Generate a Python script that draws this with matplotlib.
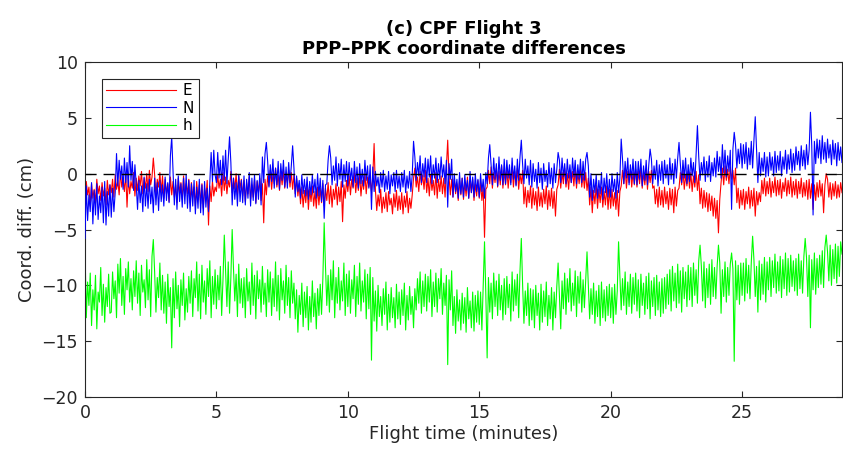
import numpy as np
import matplotlib
matplotlib.use("Agg")
import matplotlib.pyplot as plt

# ── Data (cm), one value every 0.05 min (20 per row = 1 minute) ──────
STEP_MIN = 0.05
X_MAX = 28.8

E = [
    -2.5, -0.7, -1.9, -1.2, -2.9, -0.9, -2.2, -1.4, -2.6, -0.5, -1.8, -1.1, -2.4, -0.8, -2.0, -1.3, -2.8, -0.6, -1.9, -1.0,
    -1.7, -0.5, -2.1, -0.1, -1.4, -0.6, -1.9, 0.2, -1.2, -0.4, -1.6, 0.0, -3.0, -0.3, -1.8, -0.7, -1.3, 0.1, -2.0, -0.4,
    -1.5, -0.2, -1.1, 0.2, -1.8, -0.4, -1.3, 0.0, -1.6, 0.3, -1.0, -0.3, 1.4, -0.1, -1.9, -0.5, -1.2, 0.1, -1.7, -0.2,
    -2.2, -0.5, -1.8, -0.9, -2.5, -0.3, -1.9, -0.7, -2.1, -1.0, -2.6, -0.4, -1.7, -0.8, -2.3, -0.2, -2.0, -0.9, -1.8, -0.5,
    -2.6, -0.8, -2.1, -1.2, -2.9, -0.7, -2.3, -1.0, -2.7, -0.9, -3.1, -1.3, -2.2, -0.6, -4.6, -1.1, -2.5, -0.7, -2.0, -1.2,
    -1.6, -0.1, -1.3, -0.5, -2.0, 0.1, -1.5, -0.3, -1.8, -0.6, -1.2, 0.2, -1.7, -0.4, -1.4, 0.0, -1.9, -0.2, -1.3, -0.5,
    -2.0, -0.6, -2.5, -0.8, -1.8, -0.3, -2.3, -1.0, -2.1, -0.5, -2.6, -0.7, -1.7, -0.4, -2.4, -0.9, -4.4, -0.5, -1.9, -0.2,
    -1.1, 0.3, -1.4, 0.0, -0.9, 0.5, -1.2, -0.1, -1.5, 0.2, -1.0, 0.4, -1.3, -0.2, -0.8, 0.3, -1.2, 0.1, -1.4, -0.1,
    -1.8, -0.4, -2.0, -0.9, -2.7, -1.2, -3.0, -1.5, -2.6, -1.0, -3.2, -1.4, -2.5, -1.1, -2.9, -1.6, -3.1, -1.2, -2.8, -1.3,
    -2.6, -0.9, -2.9, -1.3, -2.4, -0.8, -2.7, -1.1, -3.0, -1.4, -2.3, -0.9, -2.8, -1.2, -2.5, -0.7, -4.3, -1.0, -2.2, -0.6,
    -1.6, -0.2, -1.9, -0.5, -1.3, 0.1, -1.7, -0.4, -1.5, -0.1, -2.0, -0.6, -1.4, 0.0, -1.8, -0.3, -1.2, -0.5, -1.6, -0.2,
    2.7, -1.5, -3.3, -1.9, -2.9, -1.4, -3.5, -2.1, -3.1, -1.7, -3.4, -1.6, -2.8, -2.2, -3.6, -1.8, -3.0, -1.5, -3.3, -2.0,
    -3.2, -1.7, -3.6, -2.0, -3.0, -1.6, -3.5, -2.2, -3.1, -1.9, -0.4, 0.5, -1.2, -0.3, -1.6, 0.2, -1.0, -0.1, -1.4, 0.3,
    -1.7, -0.4, -2.0, -0.1, -1.5, -0.6, -1.9, 0.1, -2.2, -0.5, -1.6, -0.2, -1.8, -0.4, -2.1, 0.6, 3.0, -0.3, -1.9, -0.5,
    -2.1, -0.5, -1.8, -0.9, -2.4, -0.6, -1.9, -0.4, -2.3, -0.8, -2.0, -0.3, -2.2, -0.7, -1.7, -0.5, -2.4, -0.9, -2.0, -0.6,
    -2.2, -0.8, -2.4, -1.1, -5.7, -1.4, -1.2, 0.3, -0.9, 0.6, -1.3, 0.1, -0.8, 0.5, -1.2, 0.2, -1.0, 0.7, -1.3, 0.3,
    -1.0, 0.4, -1.3, 0.1, -0.8, 0.6, -1.2, 0.2, -1.0, 0.5, -1.4, 0.0, -0.9, 0.3, -2.7, -1.2, -3.0, -1.5, -2.6, -1.1,
    -3.1, -1.3, -2.8, -1.6, -3.3, -1.2, -2.9, -1.7, -3.0, -1.4, -2.7, -1.1, -3.2, -1.5, -2.9, -1.3, -3.1, -1.6, -3.8, -1.4,
    -1.0, 0.4, -1.3, 0.1, -0.9, 0.5, -1.2, 0.0, -1.4, 0.3, -0.8, 0.2, -1.1, 0.5, -1.3, 0.1, -0.9, 0.4, -1.2, 0.0,
    -1.3, 0.1, -1.5, -0.4, -2.8, -1.2, -3.5, -1.5, -2.7, -1.0, -3.1, -1.4, -2.6, -1.2, -3.0, -1.6, -2.8, -1.1, -3.2, -1.4,
    -3.1, -1.4, -2.9, -1.7, -3.2, -1.5, -3.8, -1.6, -1.1, 0.3, -0.9, 0.5, -1.3, 0.2, -0.8, 0.4, -1.2, 0.1, -1.0, 0.4,
    -1.2, 0.2, -0.9, 0.5, -1.3, 0.1, -1.0, 0.4, -1.4, 0.2, -0.8, 0.3, -1.3, -1.1, -2.7, -1.4, -3.0, -1.2, -2.8, -1.5,
    -3.0, -1.2, -2.7, -1.6, -3.2, -1.3, -2.8, -1.4, -3.5, -1.2, -2.9, -1.5, -1.3, 0.1, -1.0, 0.3, -1.4, -0.1, -1.1, 0.2,
    -1.3, 0.1, -1.6, -0.2, -1.2, 0.2, -1.5, -0.1, -2.7, -1.3, -3.1, -1.5, -3.0, -1.7, -3.4, -1.8, -3.3, -2.0, -3.8, -2.2,
    -4.0, -2.4, -5.3, -2.3, -0.8, 0.5, -1.0, 0.7, -0.6, 0.4, -0.9, 0.6, -0.5, 0.3, -1.0, 0.5, -2.6, -1.3, -3.1, -1.5,
    -2.8, -1.4, -3.2, -1.6, -2.7, -1.2, -3.1, -1.5, -2.9, -1.3, -3.8, -1.6, -2.8, -1.7, -2.5, -0.6, -1.8, -0.4, -2.0, -0.7,
    -1.8, -0.4, -2.1, -0.7, -1.7, -0.3, -2.0, -0.6, -1.9, -0.5, -2.2, -0.8, -1.6, -0.4, -2.0, -0.6, -1.8, -0.3, -2.1, -0.7,
    -1.9, -0.5, -2.2, -0.7, -1.8, -0.4, -2.1, -0.8, -2.0, -0.6, -2.3, -0.5, -2.2, -0.9, -3.2, -1.0, -2.4, -0.8, -2.1, -0.6,
    -2.0, -0.9, -3.5, -1.0, 0.0, -0.5, -2.1, -0.8, -2.3, -0.9, -2.0, -0.7, -2.2, -1.0, -2.1, -0.8, -1.7,
]

N = [
    -5.8, -1.1, -4.2, -1.9, -3.4, -0.8, -4.5, -1.5, -3.7, -0.9, -4.1, -2.0, -3.5, -1.2, -4.4, -0.7, -4.6, -1.6, -3.8, -1.0,
    -3.9, -1.3, -3.4, -1.7, 1.8, -1.1, 1.2, -0.5, 0.7, -1.4, 1.4, -0.8, 1.0, -1.2, 2.5, -0.6, 1.1, -1.5, 0.8, -1.0,
    -3.2, -0.6, -2.6, -1.1, -3.4, -0.3, -2.9, -0.9, -3.1, -0.5, -2.7, -1.2, -3.5, -0.4, -2.8, -0.8, -3.3, -0.6, -2.5, -1.0,
    -2.9, -0.3, -2.4, -0.8, -2.6, 1.6, 3.3, 0.3, -2.8, -0.5, -3.2, -0.2, -2.5, -0.9, -3.0, -0.4, -2.7, -0.1, -3.1, -0.6,
    -3.4, -0.9, -2.9, -0.6, -3.6, -1.2, -3.1, -0.5, -3.5, -1.0, -3.7, -0.7, -3.0, -1.3, -3.4, -0.8, 1.9, -0.7, 2.1, -0.1,
    -0.8, 1.9, -0.4, 1.2, -1.0, 1.6, -0.6, 2.1, -0.9, 1.3, 3.3, 1.0, -2.8, -0.4, -2.3, -0.8, -2.9, -0.1, -2.5, -0.6,
    -2.6, -0.2, -2.8, -0.5, -2.2, 0.1, -2.9, -0.4, -2.4, -0.1, -2.7, -0.6, -2.3, 0.0, -2.8, 1.5, -0.8, 1.8, 2.8, 1.1,
    -1.2, 0.8, -0.7, 1.3, -1.3, 0.5, -1.0, 1.1, -1.4, 0.9, -0.6, 1.2, -1.2, 0.6, -1.3, 1.0, -0.8, 0.7, 2.5, 0.5,
    -2.1, -0.2, -1.6, -0.6, -2.2, -0.1, -1.8, -0.5, -2.0, -0.3, -2.3, -0.7, -1.9, -0.1, -1.7, -0.5, -2.2, 0.0, -2.0, -0.4,
    -2.5, -0.6, -4.0, -1.0, -0.9, 1.2, 2.5, 1.4, -1.0, 0.7, -0.6, 1.5, -1.1, 0.9, -0.5, 1.3, -1.2, 0.8, -0.7, 1.1,
    -1.1, 1.0, -0.6, 0.5, -1.2, 1.1, -0.8, 0.6, -1.3, 0.9, -0.9, 0.4, -1.1, 1.2, -0.6, 0.7, -1.3, 0.8, -3.2, 0.6,
    -1.6, 0.2, -1.1, -0.3, -1.7, 0.1, -1.2, 0.3, -1.6, -0.2, -1.4, 0.2, -1.8, -0.1, -1.1, 0.1, -1.6, 0.3, -1.3, -0.2,
    -1.6, 0.1, -1.2, 0.3, -1.7, -0.2, -1.3, 0.2, -1.6, -0.1, 2.9, 1.5, -0.6, 1.0, -0.2, 1.6, -0.8, 0.9, -0.3, 1.4,
    -0.8, 1.3, -0.3, 1.6, -0.9, 0.8, -0.4, 1.4, -0.8, 0.9, -0.5, 1.5, -0.3, 0.8, -0.9, 1.2, -3.0, 0.9, -0.5, 1.3,
    -2.1, 0.0, -1.6, -0.5, -2.2, 0.1, -1.8, -0.4, -2.1, -0.1, -1.5, -0.6, -2.2, 0.2, -1.7, -0.3, -2.1, 0.0, -1.6, -0.5,
    -2.1, 0.0, -1.6, -0.5, -2.2, 0.1, -0.9, 1.4, 2.6, 0.8, -1.0, 1.4, -0.5, 0.9, -1.1, 1.5, -0.6, 0.8, -1.0, 1.3,
    -0.9, 1.2, -0.4, 0.8, -1.0, 1.4, -0.5, 0.7, -1.1, 1.3, -0.6, 1.5, 3.0, 0.8, -0.9, 1.3, -0.4, 0.7, -1.0, 1.2,
    -1.2, 0.9, -0.7, 0.4, -1.3, 1.0, -0.8, 0.5, -1.4, 0.9, -0.7, 0.3, -1.2, 1.0, -0.9, 0.5, -1.3, 0.9, -0.8, 0.4,
    1.9, 1.2, -0.8, 1.4, -0.3, 0.9, -0.9, 1.3, -0.4, 0.8, -0.8, 1.4, -0.3, 1.2, -0.9, 0.8, -0.5, 1.3, -0.8, 1.1,
    -0.6, 1.3, 1.9, 0.7, -2.1, 0.0, -2.4, -0.5, -1.7, -0.1, -2.2, -0.6, -1.8, 0.1, -2.3, -0.4, -1.7, 0.0, -2.1, -0.5,
    -2.1, 0.0, -1.6, -0.5, -2.2, 0.1, -1.7, -0.4, 3.1, 1.3, -0.9, 1.1, -0.4, 1.4, -1.0, 0.8, -0.5, 1.3, -0.9, 1.1,
    -1.0, 1.1, -0.5, 1.3, -1.1, 0.7, -0.6, 1.2, -1.0, 0.8, 2.2, 1.3, -0.9, 0.7, -0.5, 1.2, -1.1, 0.8, -0.6, 1.1,
    -0.9, 1.2, -0.4, 0.8, -1.0, 1.4, -0.5, 0.9, -0.9, 1.3, -0.4, 1.4, 2.8, 0.9, -0.8, 1.2, -0.4, 1.4, -0.9, 0.8,
    -0.7, 1.4, -0.2, 1.0, -0.8, 1.8, 4.3, 1.5, -0.6, 1.0, -0.1, 1.5, -0.7, 1.1, -0.3, 1.6, -0.7, 1.0, -0.2, 1.4,
    -0.3, 2.0, 0.2, 1.5, -0.4, 2.6, 0.1, 2.1, -0.3, 1.6, 0.2, 2.1, -3.2, 2.2, 3.7, 2.6, 0.5, 2.2, 0.9, 2.7,
    0.5, 2.6, 0.9, 2.8, 0.4, 2.3, 0.8, 2.9, 0.5, 3.0, 5.1, 2.2, -0.8, 1.9, -0.2, 1.4, 0.2, 1.9, -0.3, 1.5,
    -0.2, 1.9, 0.3, 1.5, -0.2, 2.0, 0.1, 1.6, 0.3, 2.0, -0.2, 1.5, 0.4, 2.1, 0.0, 1.7, 0.4, 2.2, 0.1, 1.8,
    0.3, 2.4, 0.8, 2.0, 0.3, 2.5, 0.7, 2.1, 0.4, 2.6, 0.8, 2.1, 5.5, 2.5, -3.7, 2.9, 0.9, 3.1, 1.4, 3.0,
    0.9, 3.4, 1.3, 2.8, 1.0, 3.1, 1.4, 2.6, 0.8, 3.0, 1.3, 2.7, 0.7, 2.8, 1.2, 2.4, 1.0,
]

h = [
    -6.5, -12.9, -9.7, -11.8, -8.9, -13.6, -10.4, -12.2, -9.1, -13.9, -10.6, -11.5, -8.4, -12.7, -9.9, -13.3, -10.2, -11.9, -9.0, -12.5,
    -12.4, -8.8, -11.2, -9.6, -12.9, -8.1, -10.7, -7.6, -11.8, -9.2, -12.6, -8.5, -10.4, -7.9, -11.5, -9.4, -12.2, -8.7, -11.0, -7.8,
    -11.6, -8.9, -12.7, -8.2, -10.6, -9.5, -12.0, -7.7, -11.3, -8.6, -12.8, -7.4, -5.9, -8.8, -12.4, -9.3, -11.1, -8.0, -12.2, -9.1,
    -12.5, -9.7, -13.4, -9.0, -11.9, -10.2, -15.6, -9.4, -12.9, -8.8, -12.1, -10.0, -13.7, -9.5, -11.8, -8.9, -13.1, -10.3, -12.4, -9.2,
    -11.6, -8.7, -12.8, -9.4, -11.1, -7.9, -12.3, -9.0, -13.0, -8.2, -11.5, -9.6, -12.6, -8.5, -11.0, -7.8, -12.9, -9.2, -11.7, -8.6,
    -12.1, -9.1, -11.3, -8.3, -12.7, -9.5, -5.5, -8.7, -11.9, -7.9, -12.5, -9.3, -5.0, -8.5, -11.4, -9.0, -12.8, -8.1, -11.6, -9.4,
    -12.0, -9.3, -12.9, -8.5, -11.4, -9.7, -12.6, -8.0, -11.8, -9.1, -13.0, -8.7, -11.2, -9.5, -12.4, -8.3, -11.7, -9.8, -12.8, -8.6,
    -11.5, -8.8, -12.7, -9.4, -11.9, -7.9, -12.3, -9.1, -13.1, -8.5, -11.3, -9.6, -12.5, -8.2, -11.8, -9.3, -12.9, -8.7, -11.6, -9.8,
    -13.0, -10.4, -14.2, -10.9, -12.6, -9.8, -13.7, -10.6, -12.9, -10.1, -14.0, -11.0, -13.3, -9.6, -12.8, -10.7, -13.9, -10.3, -12.7, -9.9,
    -12.6, -9.4, -4.4, -8.3, -11.8, -9.1, -12.4, -8.6, -11.3, -7.8, -12.9, -9.3, -11.6, -8.4, -12.2, -9.6, -11.4, -8.0, -12.7, -9.0,
    -11.9, -8.7, -12.5, -9.5, -11.2, -8.2, -12.8, -9.2, -11.7, -8.0, -12.3, -9.6, -11.5, -8.6, -13.0, -9.0, -12.1, -8.4, -16.7, -9.3,
    -13.2, -10.5, -14.1, -10.0, -12.8, -11.0, -13.6, -10.3, -12.6, -9.7, -14.0, -10.8, -13.3, -10.2, -12.9, -11.1, -13.8, -9.9, -13.0, -10.6,
    -13.5, -10.4, -12.7, -9.8, -14.0, -10.9, -13.1, -10.1, -12.6, -11.0, -13.8, -10.3, -12.2, -9.4, -11.6, -8.8, -12.5, -9.6, -11.9, -9.0,
    -12.3, -9.2, -11.5, -8.6, -12.8, -9.7, -11.9, -8.9, -12.4, -9.4, -11.2, -8.5, -12.6, -9.8, -11.8, -9.1, -17.1, -9.5, -12.2, -8.7,
    -13.6, -11.0, -14.3, -10.4, -13.2, -11.3, -14.0, -10.7, -13.4, -11.1, -14.2, -10.2, -13.0, -11.4, -13.8, -10.6, -14.1, -10.9, -13.3, -10.5,
    -13.5, -10.6, -14.0, -10.2, -6.1, -10.8, -16.5, -9.3, -12.4, -9.8, -13.0, -8.9, -11.9, -9.6, -12.7, -9.0, -12.2, -10.0, -13.1, -9.4,
    -12.6, -9.2, -12.0, -9.9, -13.2, -8.8, -12.3, -9.5, -11.8, -9.0, -12.9, -8.7, -5.8, -10.0, -13.4, -10.5, -12.7, -9.8, -13.6, -10.3,
    -13.1, -10.4, -13.8, -10.0, -12.7, -10.7, -14.0, -9.9, -13.3, -10.5, -12.8, -9.7, -13.6, -10.9, -13.0, -10.2, -14.0, -10.6, -12.9, -10.1,
    -8.0, -10.9, -13.9, -9.6, -12.1, -8.9, -12.6, -9.4, -11.5, -8.5, -12.3, -9.8, -11.8, -8.7, -12.8, -9.2, -11.6, -8.8, -12.4, -9.5,
    -12.0, -9.6, -7.0, -9.9, -13.0, -10.3, -12.6, -9.8, -13.4, -10.5, -12.8, -10.0, -13.6, -9.7, -12.9, -10.4, -13.2, -10.1, -12.7, -9.9,
    -12.9, -10.2, -13.4, -9.9, -12.6, -10.5, -6.1, -9.1, -12.2, -9.4, -11.8, -8.8, -12.6, -9.7, -11.9, -9.0, -12.5, -9.3, -11.7, -8.9,
    -12.3, -9.5, -12.9, -9.0, -11.8, -9.8, -12.6, -9.2, -12.1, -8.9, -13.0, -9.6, -11.9, -9.3, -12.7, -9.1, -12.2, -9.7, -12.8, -9.4,
    -12.5, -9.3, -12.1, -9.0, -11.7, -8.6, -12.3, -8.3, -11.4, -8.9, -12.0, -8.1, -11.6, -8.7, -12.4, -8.4, -11.2, -8.8, -11.9, -8.2,
    -11.3, -8.4, -11.9, -8.0, -10.9, -8.6, -11.6, -7.8, -6.4, -8.3, -11.4, -7.9, -12.0, -8.5, -11.1, -8.1, -11.7, -7.7, -11.0, -8.4,
    -11.2, -8.3, -6.4, -8.0, -12.5, -8.6, -11.0, -7.9, -11.5, -8.4, -10.9, -8.1, -7.1, -8.5, -16.8, -7.8, -11.3, -8.2, -11.7, -8.0,
    -10.9, -8.0, -11.4, -7.6, -10.7, -8.2, -11.2, -7.9, -5.6, -7.7, -11.0, -8.3, -12.4, -7.8, -11.3, -8.1, -10.8, -7.5, -11.5, -7.9,
    -10.4, -7.5, -11.0, -7.8, -10.2, -7.2, -10.7, -7.9, -10.5, -7.4, -11.1, -7.7, -10.3, -7.1, -10.9, -7.6, -10.6, -7.3, -10.1, -7.8,
    -10.5, -7.6, -10.9, -7.2, -10.3, -7.8, -10.7, -7.4, -5.8, -7.5, -11.0, -7.3, -13.8, -7.7, -10.4, -7.1, -10.8, -7.6, -10.2, -7.3,
    -9.9, -6.9, -10.2, -6.6, -5.5, -7.0, -9.6, -6.4, -10.0, -6.8, -9.4, -6.3, -9.8, -6.5, -9.2, -6.1, -7.2,
]

X_TICKS = [0, 5, 10, 15, 20, 25]
Y_TICKS = [-20, -15, -10, -5, 0, 5, 10]

# ── Figure ───────────────────────────────────────────────────
plt.rcParams['font.family'] = ['DejaVu Sans']
plt.rcParams['axes.unicode_minus'] = True

AX_GRAY = '#262626'

fig = plt.figure(figsize=(8.43, 4.61), dpi=100)
ax = fig.add_axes([0.1008, 0.1388, 0.8980, 0.7267])

for series, color, name, z in [(E, '#FF0000', 'E', 2), (N, '#0000FF', 'N', 3), (h, '#00FF00', 'h', 2)]:
    t_min = np.arange(len(series)) * STEP_MIN
    ax.plot(t_min, series, color=color, lw=0.8, label=name, zorder=z)
ax.axhline(0, color='black', lw=1.0, dashes=(8, 5), zorder=4)

ax.set_xlim(0, X_MAX)
ax.set_ylim(-20, 10)
ax.set_xticks(X_TICKS)
ax.set_yticks(Y_TICKS)

ax.tick_params(direction='in', length=4, width=0.8, top=True, right=True,
               labelsize=12.5, colors=AX_GRAY, pad=5)
for sp in ax.spines.values():
    sp.set_color(AX_GRAY)
    sp.set_linewidth(0.8)

ax.set_xlabel('Flight time (minutes)', fontsize=13, color=AX_GRAY, labelpad=2)
ax.set_ylabel('Coord. diff. (cm)', fontsize=13, color=AX_GRAY, labelpad=4)
ax.set_title('(c) CPF Flight 3\nPPP\u2013PPK coordinate differences',
             fontsize=13, fontweight='bold', linespacing=1.15, pad=6)

leg = ax.legend(loc='upper left', bbox_to_anchor=(0.022, 0.95), fontsize=11,
                handlelength=4.6, handletextpad=0.4, borderpad=0.3,
                labelspacing=0.15, fancybox=False, framealpha=1,
                edgecolor=AX_GRAY, borderaxespad=0)
leg.get_frame().set_linewidth(0.8)

plt.savefig('out.png', dpi=100, facecolor='white')
plt.close()
